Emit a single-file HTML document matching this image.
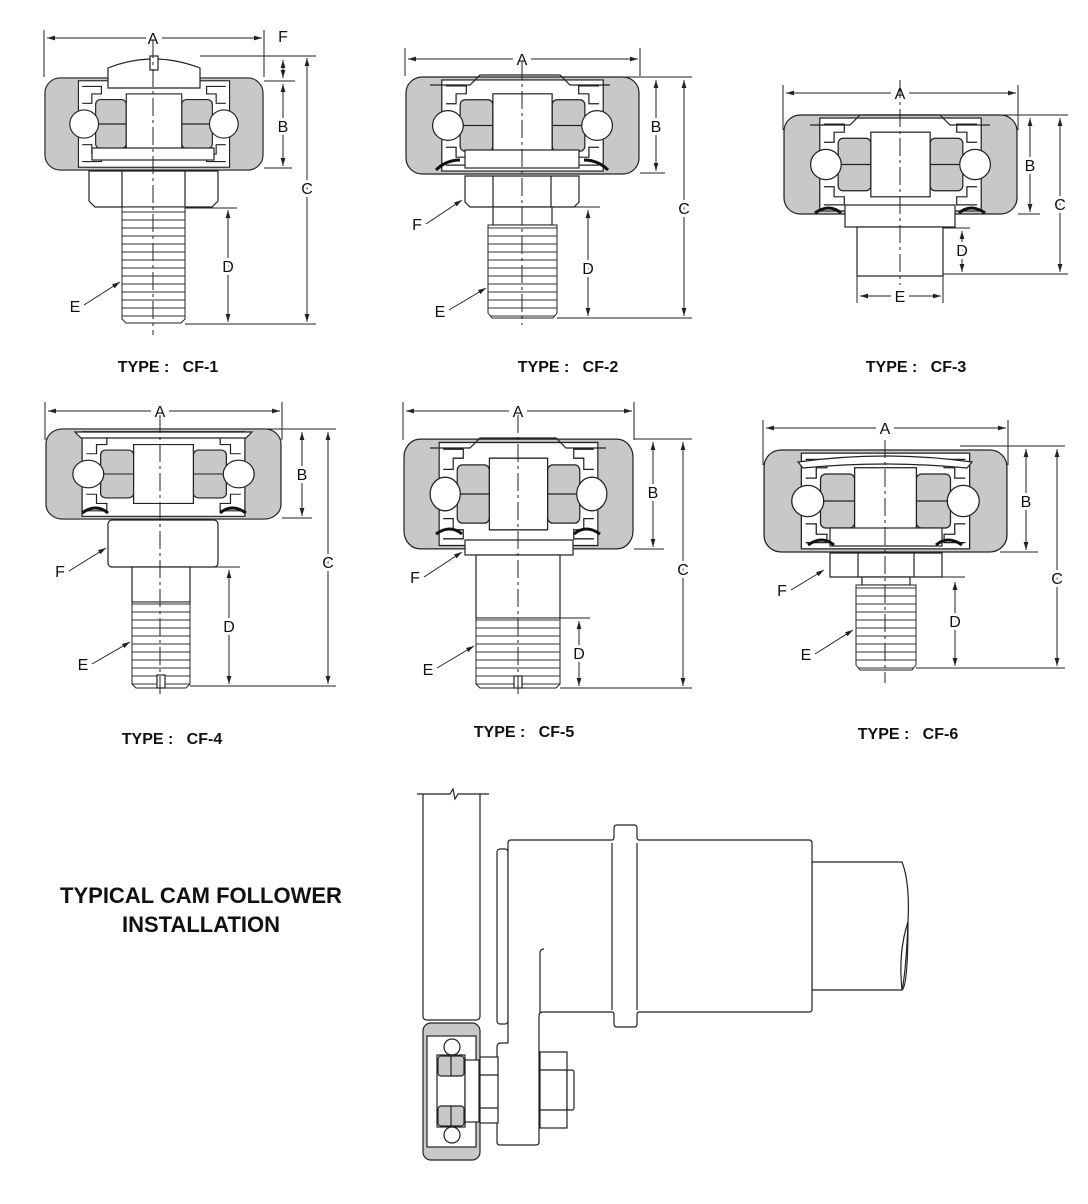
<!DOCTYPE html>
<html><head><meta charset="utf-8"><style>
html,body{margin:0;padding:0;background:#fff}
svg{display:block}
text{font-family:"Liberation Sans",Arial,sans-serif;fill:#111}
.lbl{font-size:16px}
.typ{font-size:16px;font-weight:bold}
.s{stroke:#222;stroke-width:1.2;fill:none}
.d{stroke:#222;stroke-width:1;fill:none}
.cl{stroke:#222;stroke-width:1;stroke-dasharray:18 4 3 4;fill:none}
.w{fill:#fff;stroke:#222;stroke-width:1.2}
.g{fill:#c8c8c8;stroke:#222;stroke-width:1.2}
</style></head><body>
<svg width="1088" height="1204" viewBox="0 0 1088 1204" xmlns="http://www.w3.org/2000/svg">
<defs>
<marker id="ar" viewBox="0 0 10 10" refX="10" refY="5" markerWidth="8" markerHeight="8" orient="auto-start-reverse"><path d="M0,2 L10,5 L0,8 z" fill="#222"/></marker>
<pattern id="thr" width="10" height="8" patternUnits="userSpaceOnUse"><rect width="10" height="8" fill="#fff"/><line x1="0" y1="4" x2="10" y2="4" stroke="#333" stroke-width="1"/></pattern>
<symbol id="brg" viewBox="0 0 230 100" preserveAspectRatio="none">
<rect x="1" y="1" width="228" height="98" rx="16" class="g"/>
<rect x="36" y="4" width="158" height="92" class="w"/>
<path class="s" d="M40,10 h20 v8 h-10 v10 h-10 M190,10 h-20 v8 h10 v10 h10 M40,90 h20 v-8 h-10 v-10 h-10 M190,90 h-20 v-8 h10 v-10 h10"/>
<rect x="54" y="24" width="32" height="52" rx="5" class="g"/>
<rect x="144" y="24" width="32" height="52" rx="5" class="g"/>
<line x1="54" y1="50" x2="86" y2="50" class="s"/><line x1="144" y1="50" x2="176" y2="50" class="s"/>
<circle cx="42" cy="50" r="15" class="w"/><circle cx="188" cy="50" r="15" class="w"/>
<rect x="86" y="18" width="58" height="64" class="w"/>
</symbol>
</defs>

<!-- CF-1 -->
<use href="#brg" x="44" y="77" width="220" height="94"/>
<path class="w" d="M108,88 v-20 q45,-18 92,0 v20 z"/>
<rect x="150" y="56" width="8" height="14" class="w"/>
<rect x="92" y="148" width="122" height="12" class="w"/>
<path class="w" d="M89,171 h129 v30 l-6,6 h-117 l-6,-6 z"/><line x1="122" y1="171" x2="122" y2="207" class="s"/><line x1="185" y1="171" x2="185" y2="207" class="s"/>
<path d="M122,207 h63 v112 l-4,4 h-55 l-4,-4 z" fill="url(#thr)" stroke="#222"/>
<line x1="153" y1="40" x2="153" y2="335" class="cl"/>
<line x1="44" y1="30" x2="44" y2="77" class="d"/><line x1="264" y1="30" x2="264" y2="77" class="d"/>
<line x1="47" y1="38" x2="146" y2="38" class="d" marker-start="url(#ar)"/><line x1="162" y1="38" x2="262" y2="38" class="d" marker-end="url(#ar)"/>
<text x="153" y="44" class="lbl" text-anchor="middle">A</text>
<text x="283" y="42" class="lbl" text-anchor="middle">F</text>
<line x1="200" y1="56" x2="316" y2="56" class="d"/><line x1="264" y1="81" x2="295" y2="81" class="d"/><line x1="264" y1="168" x2="292" y2="168" class="d"/>
<line x1="283" y1="60" x2="283" y2="78" class="d" marker-start="url(#ar)" marker-end="url(#ar)"/>
<line x1="283" y1="84" x2="283" y2="166" class="d" marker-start="url(#ar)" marker-end="url(#ar)"/>
<text x="283" y="132" class="lbl" text-anchor="middle" style="paint-order:stroke;stroke:#fff;stroke-width:6">B</text>
<line x1="307" y1="58" x2="307" y2="322" class="d" marker-start="url(#ar)" marker-end="url(#ar)"/>
<text x="307" y="194" class="lbl" text-anchor="middle" style="paint-order:stroke;stroke:#fff;stroke-width:6">C</text>
<line x1="185" y1="208" x2="237" y2="208" class="d"/><line x1="185" y1="324" x2="316" y2="324" class="d"/>
<line x1="228" y1="210" x2="228" y2="322" class="d" marker-start="url(#ar)" marker-end="url(#ar)"/>
<text x="228" y="272" class="lbl" text-anchor="middle" style="paint-order:stroke;stroke:#fff;stroke-width:6">D</text>
<text x="75" y="312" class="lbl" text-anchor="middle">E</text><line x1="84" y1="305" x2="120" y2="282" class="d" marker-end="url(#ar)"/>
<text x="168" y="372" class="typ" text-anchor="middle">TYPE :&#160;&#160; CF-1</text>

<!-- CF-2 -->
<use href="#brg" x="405" y="76" width="235" height="99"/>
<path class="s" d="M430,85 h40 l10,-10 h80 l10,10 h40"/>
<rect x="465" y="150" width="114" height="18" class="w"/>
<path class="w" d="M465,176 h114 v26 l-5,5 h-104 l-5,-5 z"/><line x1="493" y1="176" x2="493" y2="207" class="s"/><line x1="551" y1="176" x2="551" y2="207" class="s"/>
<rect x="493" y="207" width="59" height="18" class="w"/>
<path d="M488,225 h69 v88 l-4,5 h-61 l-4,-5 z" fill="url(#thr)" stroke="#222"/>
<path d="M436,170 q10,-10 24,-10 M608,170 q-10,-10 -24,-10" stroke="#111" stroke-width="3" fill="none"/>
<line x1="522" y1="62" x2="522" y2="325" class="cl"/>
<line x1="405" y1="48" x2="405" y2="76" class="d"/><line x1="640" y1="48" x2="640" y2="76" class="d"/>
<line x1="408" y1="59" x2="513" y2="59" class="d" marker-start="url(#ar)"/><line x1="531" y1="59" x2="638" y2="59" class="d" marker-end="url(#ar)"/>
<text x="522" y="65" class="lbl" text-anchor="middle">A</text>
<line x1="620" y1="77" x2="692" y2="77" class="d"/><line x1="640" y1="173" x2="665" y2="173" class="d"/>
<line x1="656" y1="80" x2="656" y2="171" class="d" marker-start="url(#ar)" marker-end="url(#ar)"/>
<text x="656" y="132" class="lbl" text-anchor="middle" style="paint-order:stroke;stroke:#fff;stroke-width:6">B</text>
<line x1="684" y1="80" x2="684" y2="316" class="d" marker-start="url(#ar)" marker-end="url(#ar)"/>
<text x="684" y="214" class="lbl" text-anchor="middle" style="paint-order:stroke;stroke:#fff;stroke-width:6">C</text>
<line x1="557" y1="207" x2="600" y2="207" class="d"/><line x1="557" y1="318" x2="692" y2="318" class="d"/>
<line x1="588" y1="210" x2="588" y2="316" class="d" marker-start="url(#ar)" marker-end="url(#ar)"/>
<text x="588" y="274" class="lbl" text-anchor="middle" style="paint-order:stroke;stroke:#fff;stroke-width:6">D</text>
<text x="417" y="230" class="lbl" text-anchor="middle">F</text><line x1="426" y1="224" x2="462" y2="200" class="d" marker-end="url(#ar)"/>
<text x="440" y="317" class="lbl" text-anchor="middle">E</text><line x1="449" y1="310" x2="486" y2="288" class="d" marker-end="url(#ar)"/>
<text x="568" y="372" class="typ" text-anchor="middle">TYPE :&#160;&#160; CF-2</text>

<!-- CF-3 -->
<use href="#brg" x="783" y="114" width="235" height="101"/>
<path class="s" d="M810,125 h40 l10,-10 h80 l10,10 h40"/>
<rect x="845" y="205" width="110" height="22" class="w"/>
<rect x="857" y="227" width="86" height="49" class="w"/>
<path d="M815,213 q14,-10 26,0 M985,213 q-14,-10 -26,0" stroke="#111" stroke-width="3" fill="none"/>
<line x1="900" y1="80" x2="900" y2="285" class="cl"/>
<line x1="783" y1="85" x2="783" y2="130" class="d"/><line x1="1018" y1="85" x2="1018" y2="130" class="d"/>
<line x1="786" y1="93" x2="891" y2="93" class="d" marker-start="url(#ar)"/><line x1="909" y1="93" x2="1016" y2="93" class="d" marker-end="url(#ar)"/>
<text x="900" y="99" class="lbl" text-anchor="middle">A</text>
<line x1="990" y1="115" x2="1068" y2="115" class="d"/><line x1="1018" y1="214" x2="1040" y2="214" class="d"/>
<line x1="1030" y1="118" x2="1030" y2="212" class="d" marker-start="url(#ar)" marker-end="url(#ar)"/>
<text x="1030" y="171" class="lbl" text-anchor="middle" style="paint-order:stroke;stroke:#fff;stroke-width:6">B</text>
<line x1="1060" y1="118" x2="1060" y2="272" class="d" marker-start="url(#ar)" marker-end="url(#ar)"/>
<text x="1060" y="210" class="lbl" text-anchor="middle" style="paint-order:stroke;stroke:#fff;stroke-width:6">C</text>
<line x1="943" y1="228" x2="970" y2="228" class="d"/><line x1="943" y1="274" x2="1068" y2="274" class="d"/>
<line x1="962" y1="231" x2="962" y2="272" class="d" marker-start="url(#ar)" marker-end="url(#ar)"/>
<text x="962" y="256" class="lbl" text-anchor="middle" style="paint-order:stroke;stroke:#fff;stroke-width:6">D</text>
<line x1="857" y1="276" x2="857" y2="303" class="d"/><line x1="943" y1="276" x2="943" y2="303" class="d"/>
<line x1="860" y1="296" x2="891" y2="296" class="d" marker-start="url(#ar)"/><line x1="909" y1="296" x2="941" y2="296" class="d" marker-end="url(#ar)"/>
<text x="900" y="302" class="lbl" text-anchor="middle">E</text>
<text x="916" y="372" class="typ" text-anchor="middle">TYPE :&#160;&#160; CF-3</text>

<!-- CF-4 -->
<use href="#brg" x="45" y="428" width="237" height="92"/>
<path class="w" d="M75,432 h177 l-6,6 h-165 z"/>
<rect x="108" y="520" width="110" height="47" rx="4" class="w"/>
<rect x="132" y="567" width="58" height="35" class="w"/>
<path d="M132,602 h58 v82 l-4,4 h-50 l-4,-4 z" fill="url(#thr)" stroke="#222"/>
<rect x="157" y="675" width="8" height="13" class="w"/>
<path d="M82,513 q14,-10 26,0 M246,513 q-14,-10 -26,0" stroke="#111" stroke-width="3" fill="none"/>
<line x1="160" y1="415" x2="160" y2="698" class="cl"/>
<line x1="45" y1="402" x2="45" y2="440" class="d"/><line x1="282" y1="402" x2="282" y2="440" class="d"/>
<line x1="48" y1="411" x2="151" y2="411" class="d" marker-start="url(#ar)"/><line x1="169" y1="411" x2="280" y2="411" class="d" marker-end="url(#ar)"/>
<text x="160" y="417" class="lbl" text-anchor="middle">A</text>
<line x1="250" y1="429" x2="336" y2="429" class="d"/><line x1="282" y1="518" x2="312" y2="518" class="d"/>
<line x1="302" y1="432" x2="302" y2="516" class="d" marker-start="url(#ar)" marker-end="url(#ar)"/>
<text x="302" y="480" class="lbl" text-anchor="middle" style="paint-order:stroke;stroke:#fff;stroke-width:6">B</text>
<line x1="328" y1="432" x2="328" y2="684" class="d" marker-start="url(#ar)" marker-end="url(#ar)"/>
<text x="328" y="568" class="lbl" text-anchor="middle" style="paint-order:stroke;stroke:#fff;stroke-width:6">C</text>
<line x1="190" y1="567" x2="240" y2="567" class="d"/><line x1="190" y1="686" x2="336" y2="686" class="d"/>
<line x1="229" y1="570" x2="229" y2="684" class="d" marker-start="url(#ar)" marker-end="url(#ar)"/>
<text x="229" y="632" class="lbl" text-anchor="middle" style="paint-order:stroke;stroke:#fff;stroke-width:6">D</text>
<text x="60" y="577" class="lbl" text-anchor="middle">F</text><line x1="69" y1="571" x2="106" y2="548" class="d" marker-end="url(#ar)"/>
<text x="83" y="670" class="lbl" text-anchor="middle">E</text><line x1="92" y1="664" x2="130" y2="642" class="d" marker-end="url(#ar)"/>
<text x="172" y="744" class="typ" text-anchor="middle">TYPE :&#160;&#160; CF-4</text>

<!-- CF-5 -->
<use href="#brg" x="403" y="438" width="231" height="112"/>
<path class="s" d="M430,448 h40 l10,-10 h76 l10,10 h40"/>
<rect x="465" y="540" width="108" height="15" class="w"/>
<rect x="476" y="555" width="84" height="63" class="w"/>
<path d="M476,618 h84 v66 l-4,4 h-76 l-4,-4 z" fill="url(#thr)" stroke="#222"/>
<rect x="514" y="676" width="8" height="12" class="w"/>
<path d="M436,534 q14,-10 26,0 M600,534 q-14,-10 -26,0" stroke="#111" stroke-width="3" fill="none"/>
<line x1="518" y1="415" x2="518" y2="698" class="cl"/>
<line x1="403" y1="402" x2="403" y2="440" class="d"/><line x1="634" y1="402" x2="634" y2="440" class="d"/>
<line x1="406" y1="411" x2="509" y2="411" class="d" marker-start="url(#ar)"/><line x1="527" y1="411" x2="632" y2="411" class="d" marker-end="url(#ar)"/>
<text x="518" y="417" class="lbl" text-anchor="middle">A</text>
<line x1="634" y1="439" x2="692" y2="439" class="d"/><line x1="634" y1="549" x2="664" y2="549" class="d"/>
<line x1="653" y1="442" x2="653" y2="547" class="d" marker-start="url(#ar)" marker-end="url(#ar)"/>
<text x="653" y="498" class="lbl" text-anchor="middle" style="paint-order:stroke;stroke:#fff;stroke-width:6">B</text>
<line x1="683" y1="442" x2="683" y2="686" class="d" marker-start="url(#ar)" marker-end="url(#ar)"/>
<text x="683" y="575" class="lbl" text-anchor="middle" style="paint-order:stroke;stroke:#fff;stroke-width:6">C</text>
<line x1="560" y1="618" x2="590" y2="618" class="d"/><line x1="560" y1="688" x2="692" y2="688" class="d"/>
<line x1="579" y1="621" x2="579" y2="686" class="d" marker-start="url(#ar)" marker-end="url(#ar)"/>
<text x="579" y="659" class="lbl" text-anchor="middle" style="paint-order:stroke;stroke:#fff;stroke-width:6">D</text>
<text x="415" y="583" class="lbl" text-anchor="middle">F</text><line x1="424" y1="577" x2="462" y2="552" class="d" marker-end="url(#ar)"/>
<text x="428" y="675" class="lbl" text-anchor="middle">E</text><line x1="437" y1="668" x2="474" y2="646" class="d" marker-end="url(#ar)"/>
<text x="524" y="737" class="typ" text-anchor="middle">TYPE :&#160;&#160; CF-5</text>

<!-- CF-6 -->
<use href="#brg" x="763" y="449" width="245" height="104"/>
<path class="w" d="M798,462 q87,-12 174,0 l-5,6 q-82,-8 -164,0 z"/>
<rect x="830" y="528" width="112" height="18" class="w"/>
<path class="w" d="M830,553 h112 v24 h-112 z"/><line x1="858" y1="553" x2="858" y2="577" class="s"/><line x1="914" y1="553" x2="914" y2="577" class="s"/>
<rect x="862" y="577" width="48" height="8" class="w"/>
<path d="M856,585 h60 v80 l-4,5 h-52 l-4,-5 z" fill="url(#thr)" stroke="#222"/>
<path d="M808,545 q14,-10 26,0 M962,545 q-14,-10 -26,0" stroke="#111" stroke-width="3" fill="none"/>
<line x1="885" y1="440" x2="885" y2="683" class="cl"/>
<line x1="763" y1="420" x2="763" y2="465" class="d"/><line x1="1008" y1="420" x2="1008" y2="465" class="d"/>
<line x1="766" y1="428" x2="876" y2="428" class="d" marker-start="url(#ar)"/><line x1="894" y1="428" x2="1006" y2="428" class="d" marker-end="url(#ar)"/>
<text x="885" y="434" class="lbl" text-anchor="middle">A</text>
<line x1="960" y1="446" x2="1065" y2="446" class="d"/><line x1="1000" y1="552" x2="1038" y2="552" class="d"/>
<line x1="1026" y1="449" x2="1026" y2="550" class="d" marker-start="url(#ar)" marker-end="url(#ar)"/>
<text x="1026" y="507" class="lbl" text-anchor="middle" style="paint-order:stroke;stroke:#fff;stroke-width:6">B</text>
<line x1="1057" y1="449" x2="1057" y2="666" class="d" marker-start="url(#ar)" marker-end="url(#ar)"/>
<text x="1057" y="584" class="lbl" text-anchor="middle" style="paint-order:stroke;stroke:#fff;stroke-width:6">C</text>
<line x1="916" y1="577" x2="965" y2="577" class="d"/><line x1="916" y1="668" x2="1065" y2="668" class="d"/>
<line x1="955" y1="582" x2="955" y2="666" class="d" marker-start="url(#ar)" marker-end="url(#ar)"/>
<text x="955" y="627" class="lbl" text-anchor="middle" style="paint-order:stroke;stroke:#fff;stroke-width:6">D</text>
<text x="782" y="596" class="lbl" text-anchor="middle">F</text><line x1="791" y1="590" x2="824" y2="570" class="d" marker-end="url(#ar)"/>
<text x="806" y="660" class="lbl" text-anchor="middle">E</text><line x1="815" y1="654" x2="853" y2="630" class="d" marker-end="url(#ar)"/>
<text x="908" y="739" class="typ" text-anchor="middle">TYPE :&#160;&#160; CF-6</text>

<!-- Installation -->
<text x="201" y="903" text-anchor="middle" style="font-size:22px;font-weight:bold">TYPICAL CAM FOLLOWER</text>
<text x="201" y="932" text-anchor="middle" style="font-size:22px;font-weight:bold">INSTALLATION</text>
<path class="s" d="M417,794 h33 l3,-5 l2,10 l3,-5 h31"/>
<path class="s" d="M423,794 v222 q0,4 4,4 h49 q4,0 4,-4 v-222"/>
<!-- shaft -->
<path class="w" d="M812,862 h90 q8,20 6,60 q-2,50 -6,68 h-90 z"/>
<path class="s" d="M908,922 q-10,30 -6,68 M902,990 q6,-4 6,-68"/>
<!-- thin plate -->
<rect x="497" y="849" width="11" height="175" rx="3" class="w"/>
<!-- housing + bracket L -->
<path class="w" d="M508,1040 V843 q0,-3 3,-3 h101 q2,0 2,-3 v-9 q0,-3 3,-3 h17 q3,0 3,3 v9 q0,3 2,3 h170 q3,0 3,3 v166 q0,3 -3,3 h-170 q-2,0 -2,3 v9 q0,3 -3,3 h-17 q-3,0 -3,-3 v-9 q0,-3 -2,-3 h-69 q-4,0 -4,4 v126 q0,3 -3,3 h-36 q-3,0 -3,-3 v-95 q0,-4 4,-4 h7 z"/>
<line x1="612" y1="843" x2="612" y2="1010" class="s"/><line x1="637" y1="843" x2="637" y2="1010" class="s"/>
<path class="s" d="M540,1013 v-60 q0,-4 4,-4"/>
<!-- nut -->
<rect x="540" y="1052" width="27" height="76" class="w"/>
<line x1="540" y1="1070" x2="567" y2="1070" class="s"/><line x1="540" y1="1110" x2="567" y2="1110" class="s"/>
<rect x="567" y="1070" width="7" height="40" rx="2" class="w"/>
<rect x="479" y="1057" width="19" height="66" class="w"/>
<line x1="479" y1="1075" x2="498" y2="1075" class="s"/><line x1="479" y1="1108" x2="498" y2="1108" class="s"/>
<!-- wheel -->
<rect x="423" y="1023" width="57" height="137" rx="8" class="g"/>
<rect x="427" y="1036" width="49" height="111" class="w"/>
<rect x="437" y="1055" width="28" height="72" class="w"/>
<rect x="438" y="1056" width="26" height="20" rx="3" class="g"/><rect x="438" y="1106" width="26" height="20" rx="3" class="g"/>
<line x1="451" y1="1056" x2="451" y2="1076" class="s"/><line x1="451" y1="1106" x2="451" y2="1126" class="s"/>
<circle cx="452" cy="1047" r="8" class="w"/><circle cx="452" cy="1135" r="8" class="w"/>
<rect x="465" y="1060" width="14" height="62" class="w"/>
</svg>
</body></html>
